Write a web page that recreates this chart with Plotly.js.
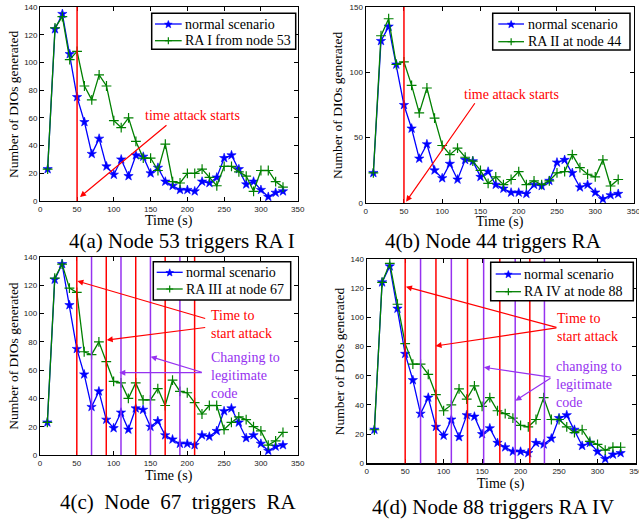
<!DOCTYPE html>
<html>
<head>
<meta charset="utf-8">
<script src="https://cdn.plot.ly/plotly-3.0.1.min.js"></script>
<style>html,body{margin:0;padding:0;background:#fff;}</style>
</head>
<body>
<div id="chart" style="width:639px;height:520px;"></div>
<script>
// ---- data ----
const time = [10,20,30,40,50,60,70,80,90,100,110,120,130,140,150,160,170,180,190,200,210,220,230,240,250,260,270,280,290,300,310,320,330];
const normalScenario = [23,124,135,106,75,57,34,45,25,19,30,18,33,32,20,24,14,11,8,8,7,14,13,17,31,33,23,12,14,8,3,6,7];
const raI_node53   = [23,125,133,102,108,83,73,91,83,58,53,60,43,31,31,22,41,14,13,20,20,23,17,11,25,25,21,18,7,22,22,14,10];
const raII_node44  = [23,128,141,106,108,90,69,88,65,44,37,42,35,32,25,15,20,14,18,24,14,17,14,17,23,24,37,27,22,20,33,13,18];
const raIII_node67 = [23,125,135,118,115,73,71,80,66,52,51,40,51,39,39,47,35,53,45,44,37,29,35,35,18,23,27,25,20,17,7,10,16];
const raIV_node88  = [23,124,137,109,82,68,68,61,47,36,40,51,44,53,39,45,36,34,31,26,25,30,45,30,30,25,21,23,15,13,9,11,11];
const normalName = "normal scenario";
const attackNames = ["RA I from node 53","RA II at node 44","RA III at node 67","RA IV at node 88"];
const captions = ["4(a) Node 53 triggers RA I","4(b) Node 44 triggers RA","4(c)&nbsp; Node&nbsp; 67&nbsp; triggers&nbsp; RA","4(d) Node 88 triggers RA IV"];
const xTicks = [0,50,100,150,200,250,300,350];
const attackStartC = [50,90,130,170,210];
const legitCodeC   = [70,110,150,190];
const attackStartD = [50,90,131,173,212];
const legitCodeD   = [70,110,152,193,231];
const attackStartAB = [50];

const attackSeries = [raI_node53, raII_node44, raIII_node67, raIV_node88];

const W = 639, H = 520;
const px = v => v / W;
const py = v => 1 - v / H;

const BLUE = 'rgb(0,0,255)';
const GREEN = 'rgb(0,128,0)';
const RED = 'rgb(255,0,0)';
const PURPLE = 'rgb(150,50,240)';
const SERIF = 'Liberation Serif';
const SANS = 'Liberation Sans';

const traces = [];
for (let i = 0; i < 4; i++) {
  const sfx = i === 0 ? '' : String(i + 1);
  traces.push({
    x: time, y: normalScenario, type: 'scatter', mode: 'lines+markers',
    name: normalName, xaxis: 'x' + sfx, yaxis: 'y' + sfx, showlegend: false,
    line: {color: BLUE, width: 1.3},
    marker: {symbol: 'star', size: 7, color: BLUE, line: {color: BLUE, width: 0.6}}
  });
  traces.push({
    x: time, y: attackSeries[i], type: 'scatter', mode: 'lines+markers',
    name: attackNames[i], xaxis: 'x' + sfx, yaxis: 'y' + sfx, showlegend: false,
    line: {color: GREEN, width: 1.3},
    marker: {symbol: 'cross-thin-open', size: 7, color: GREEN, line: {color: GREEN, width: 1.2}}
  });
}

const domains = [
  {x: [px(40.3), px(297.7)], y: [py(201), py(7)], yr: [0,140], dy: 20},
  {x: [px(365.7), px(633.5)], y: [py(203), py(7)], yr: [0,150], dy: 50},
  {x: [px(40), px(297.7)], y: [py(455), py(257)], yr: [0,140], dy: 20},
  {x: [px(366.7), px(636)], y: [py(463.3), py(259)], yr: [0,140], dy: 20}
];

const layout = {
  width: W, height: H,
  margin: {l: 0, r: 0, t: 0, b: 0},
  paper_bgcolor: 'white', plot_bgcolor: 'white',
  showlegend: false,
  shapes: [], annotations: []
};

const axBase = {
  showgrid: false, zeroline: false, showline: true, linecolor: 'black', linewidth: 1.2,
  mirror: 'ticks', ticks: 'inside', ticklen: 4, tickwidth: 1, tickcolor: 'black',
  ticklabeloverflow: 'allow',
  tickfont: {family: SANS, size: 8, color: '#222'}
};

for (let i = 0; i < 4; i++) {
  const sfx = i === 0 ? '' : String(i + 1);
  const d = domains[i];
  layout['xaxis' + sfx] = Object.assign({}, axBase, {
    domain: d.x, range: [0, 350], tickmode: 'array', tickvals: xTicks, ticktext: xTicks.map(String), anchor: 'y' + sfx
  });
  layout['yaxis' + sfx] = Object.assign({}, axBase, {
    domain: d.y, range: d.yr, dtick: d.dy, tick0: 0, anchor: 'x' + sfx
  });
  const cx = (d.x[0] + d.x[1]) / 2;
  const xTitleY = [221, 221.5, 476, 484.3][i];
  layout.annotations.push({
    xref: 'paper', yref: 'paper', x: cx, y: py(xTitleY), xanchor: 'center', yanchor: 'middle',
    text: 'Time (s)', showarrow: false, font: {family: SERIF, size: 14, color: 'black'}
  });
  const yTitleX = [14, 338, 12.7, 339][i];
  layout.annotations.push({
    xref: 'paper', yref: 'paper', x: px(yTitleX), y: (d.y[0] + d.y[1]) / 2, xanchor: 'center', yanchor: 'middle',
    textangle: -90, text: 'Number of DIOs generated', showarrow: false,
    font: {family: SERIF, size: 13.5, color: 'black'}
  });
  const cap = [[182, 240.5], [494, 241], [177.5, 502], [492.5, 506.7]][i];
  layout.annotations.push({
    xref: 'paper', yref: 'paper', x: px(cap[0]), y: py(cap[1]), xanchor: 'center', yanchor: 'middle',
    text: captions[i], showarrow: false, font: {family: SERIF, size: 21, color: 'black'}
  });
}

function vline(xv, sfx, color) {
  layout.shapes.push({
    type: 'line', xref: 'x' + sfx, yref: 'y' + sfx + ' domain', x0: xv, x1: xv, y0: 0, y1: 1,
    line: {color: color, width: 1.5}, layer: 'above'
  });
}
attackStartAB.forEach(v => { vline(v, '', RED); vline(v, '2', RED); });
attackStartC.forEach(v => vline(v, '3', RED));
legitCodeC.forEach(v => vline(v, '3', PURPLE));
attackStartD.forEach(v => vline(v, '4', RED));
legitCodeD.forEach(v => vline(v, '4', PURPLE));

// ---- legend boxes (styling, drawn in paper pixels) ----
const legendBoxes = [
  {x0: 151.7, y0: 13.3, x1: 295.7, y1: 49.3, r1: 24, r2: 40.7, l0: 155, l1: 181.7, t: 182.7},
  {x0: 492.7, y0: 13.3, x1: 630, y1: 50, r1: 24, r2: 41.7, l0: 498.3, l1: 524, t: 525.7},
  {x0: 153.3, y0: 261.7, x1: 290.7, y1: 300, r1: 272.3, r2: 289, l0: 156.7, l1: 182.7, t: 184},
  {x0: 490.7, y0: 262.3, x1: 633.3, y1: 300.7, r1: 274, r2: 291.7, l0: 495.7, l1: 521, t: 522.3}
];
function pp(x, y) { return px(x).toFixed(5) + ',' + py(y).toFixed(5); }
function starPath(cx, cy, ro, ri) {
  let s = '';
  for (let k = 0; k < 10; k++) {
    const r = k % 2 === 0 ? ro : ri;
    const a = -Math.PI / 2 + k * Math.PI / 5;
    s += (k === 0 ? 'M' : 'L') + pp(cx + r * Math.cos(a), cy + r * Math.sin(a));
  }
  return s + 'Z';
}
legendBoxes.forEach((b, i) => {
  layout.shapes.push({type: 'rect', xref: 'paper', yref: 'paper', x0: px(b.x0), x1: px(b.x1), y0: py(b.y1), y1: py(b.y0),
    fillcolor: 'white', line: {color: 'black', width: 1.5}, layer: 'above'});
  layout.shapes.push({type: 'line', xref: 'paper', yref: 'paper', x0: px(b.l0), x1: px(b.l1), y0: py(b.r1), y1: py(b.r1),
    line: {color: BLUE, width: 1.3}, layer: 'above'});
  layout.shapes.push({type: 'line', xref: 'paper', yref: 'paper', x0: px(b.l0), x1: px(b.l1), y0: py(b.r2), y1: py(b.r2),
    line: {color: GREEN, width: 1.3}, layer: 'above'});
  const mx = (b.l0 + b.l1) / 2;
  layout.shapes.push({type: 'path', xref: 'paper', yref: 'paper', path: starPath(mx, b.r1 + 0.5, 4, 1.7),
    fillcolor: BLUE, line: {color: BLUE, width: 0.6}, layer: 'above'});
  layout.shapes.push({type: 'path', xref: 'paper', yref: 'paper',
    path: 'M' + pp(mx - 3.5, b.r2) + 'L' + pp(mx + 3.5, b.r2) + 'M' + pp(mx, b.r2 - 3.5) + 'L' + pp(mx, b.r2 + 3.5),
    line: {color: GREEN, width: 1.2}, layer: 'above'});
  layout.annotations.push({xref: 'paper', yref: 'paper', x: px(b.t), y: py(b.r1), xanchor: 'left', yanchor: 'middle',
    text: normalName, showarrow: false, font: {family: SERIF, size: 14, color: 'black'}});
  layout.annotations.push({xref: 'paper', yref: 'paper', x: px(b.t), y: py(b.r2), xanchor: 'left', yanchor: 'middle',
    text: attackNames[i], showarrow: false, font: {family: SERIF, size: 14, color: 'black'}});
});

function arrow(sfx, hx, hy, tx, ty, color) {
  layout.annotations.push({
    xref: 'x' + sfx, yref: 'y' + sfx, axref: 'x' + sfx, ayref: 'y' + sfx,
    x: hx, y: hy, ax: tx, ay: ty, text: '', showarrow: true,
    arrowhead: 2, arrowsize: 1, arrowwidth: 1.2, arrowcolor: color, standoff: 0, startstandoff: 0
  });
}
function label(sfx, x, y, text, color, anchor) {
  layout.annotations.push({
    xref: 'x' + sfx, yref: 'y' + sfx, x: x, y: y, text: text, showarrow: false,
    xanchor: anchor, yanchor: 'middle', align: 'left',
    font: {family: SERIF, size: 14, color: color}
  });
}

// panel a
label('', 206.3, 62, 'time attack starts', RED, 'center');
arrow('', 54, 2.9, 173.6, 55.6, RED);
// panel b
label('2', 189.9, 83.4, 'time attack starts', RED, 'center');
arrow('2', 52.8, 1, 144, 77.5, RED);
// panel c
label('3', 229.5, 92.6, 'Time to<br>start attack', RED, 'left');
arrow('3', 50.7, 123, 226.4, 96.2, RED);
arrow('3', 90.6, 81.3, 226.4, 90.3, RED);
label('3', 229.5, 55.9, 'Changing to<br>legitimate<br>code', PURPLE, 'left');
arrow('3', 107.7, 58.2, 221.8, 58.2, PURPLE);
arrow('3', 150.3, 69.5, 221.8, 58.2, PURPLE);
// panel d
label('4', 245.2, 92.8, 'Time to<br>start attack', RED, 'left');
arrow('4', 51, 121, 248.5, 92.9, RED);
arrow('4', 89.5, 80.4, 248.5, 92.9, RED);
label('4', 243, 53.7, 'changing to<br>legitimate<br>code', PURPLE, 'left');
arrow('4', 152.2, 65.8, 240.8, 58.9, PURPLE);
arrow('4', 193.3, 42.9, 240.8, 58.9, PURPLE);

Plotly.newPlot('chart', traces, layout, {staticPlot: true, displayModeBar: false});
</script>
</body>
</html>
